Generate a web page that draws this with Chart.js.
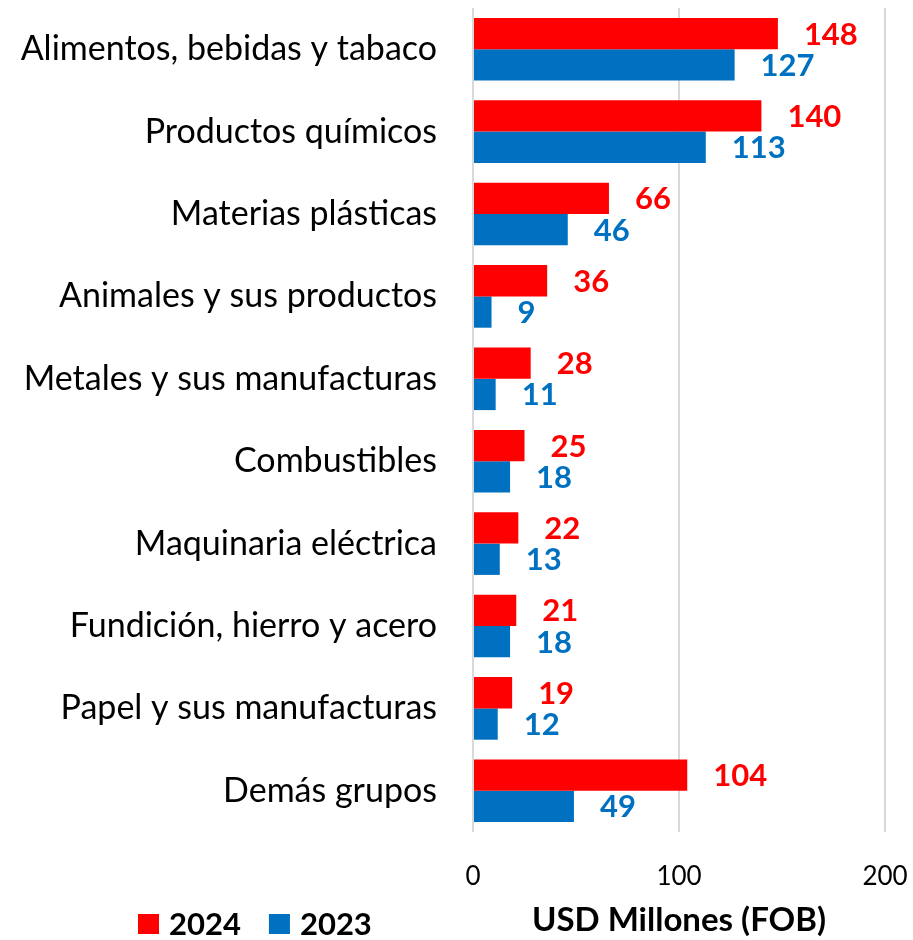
<!DOCTYPE html>
<html>
<head>
<meta charset="utf-8">
<script src="https://cdn.jsdelivr.net/npm/chart.js@4"></script>
<style>
  html, body { margin: 0; padding: 0; background: #fff; }
  #wrap { width: 913px; height: 940px; }
</style>
</head>
<body>
<div id="wrap"><canvas id="myChart" width="913" height="940"></canvas></div>
<script>
// categorías y valores (USD millones FOB)
const categories = [
  "Alimentos, bebidas y tabaco",
  "Productos químicos",
  "Materias plásticas",
  "Animales y sus productos",
  "Metales y sus manufacturas",
  "Combustibles",
  "Maquinaria eléctrica",
  "Fundición, hierro y acero",
  "Papel y sus manufacturas",
  "Demás grupos"
];
const values2024 = [148, 140, 66, 36, 28, 25, 22, 21, 19, 104];
const values2023 = [127, 113, 46, 9, 11, 18, 13, 18, 12, 49];
const seriesNames = ["2024", "2023"];
const xTicks = [0, 100, 200];

const RED = "#ff0000";
const BLUE = "#0070c0";
const FONT = "Lato, 'Open Sans', sans-serif";

// etiquetas de valor al final de cada barra
const valueLabels = {
  id: "valueLabels",
  afterDatasetsDraw(chart) {
    const c = chart.ctx;
    c.save();
    c.font = "bold 31px " + FONT;
    c.textAlign = "left";
    c.textBaseline = "middle";
    chart.data.datasets.forEach((ds, i) => {
      const meta = chart.getDatasetMeta(i);
      c.fillStyle = ds.backgroundColor;
      meta.data.forEach((bar, j) => {
        c.fillText(String(ds.data[j]), bar.x + 26, bar.y + 1);
      });
    });
    c.restore();
  }
};

// leyenda abajo a la izquierda
const bottomLegend = {
  id: "bottomLegend",
  afterDraw(chart) {
    const c = chart.ctx;
    c.save();
    c.font = "bold 31px " + FONT;
    c.textBaseline = "middle";
    c.textAlign = "left";
    let x = 138;
    const y = 924;
    chart.data.datasets.forEach(ds => {
      c.fillStyle = ds.backgroundColor;
      c.fillRect(x, y - 10, 21, 20);
      c.fillStyle = "#000";
      c.fillText(ds.label, x + 31, y + 1);
      x += 31 + c.measureText(ds.label).width + 28;
    });
    c.restore();
  }
};

const ctx = document.getElementById("myChart").getContext("2d");
new Chart(ctx, {
  type: "bar",
  data: {
    labels: categories,
    datasets: [
      { label: seriesNames[0], data: values2024, backgroundColor: RED },
      { label: seriesNames[1], data: values2023, backgroundColor: BLUE }
    ]
  },
  options: {
    indexAxis: "y",
    responsive: false,
    animation: false,
    layout: { padding: { top: 8, right: 28, bottom: 0, left: 0 } },
    datasets: { bar: { categoryPercentage: 0.76, barPercentage: 1.0 } },
    plugins: {
      legend: { display: false },
      tooltip: { enabled: false }
    },
    scales: {
      x: {
        min: 0,
        max: 200,
        afterBuildTicks: s => { s.ticks = xTicks.map(v => ({ value: v })); },
        grid: { color: "#d9d9d9", lineWidth: 2, drawTicks: false },
        border: { display: false },
        ticks: { color: "#000", font: { family: FONT, size: 26 }, padding: 29 },
        title: {
          display: true,
          text: "USD Millones (FOB)",
          color: "#000",
          font: { family: FONT, size: 33, weight: "bold" },
          padding: { top: 6, bottom: 0 }
        },
        afterFit: s => { s.height = 108; s.paddingLeft = 0; s.paddingRight = 0; }
      },
      y: {
        grid: { display: false },
        border: { display: false },
        ticks: { color: "#000", font: { family: FONT, size: 34 }, padding: 28 },
        afterFit: s => { s.width = 473; s.paddingTop = 0; s.paddingBottom = 0; }
      }
    }
  },
  plugins: [valueLabels, bottomLegend]
});
</script>
</body>
</html>
